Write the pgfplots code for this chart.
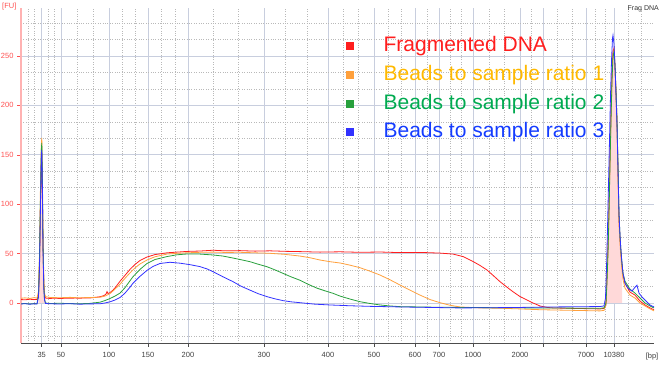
\documentclass[border=0pt]{standalone}
\usepackage{fontspec}
\setmainfont{Liberation Sans}
\usepackage{pgfplots}
\pgfplotsset{compat=1.18}
\definecolor{lred}{RGB}{255,30,30}
\definecolor{lora}{RGB}{255,160,60}
\definecolor{lgrn}{RGB}{40,160,60}
\definecolor{lblu}{RGB}{50,50,255}
\definecolor{tora}{RGB}{255,185,0}
\definecolor{tgrn}{RGB}{0,170,80}
\definecolor{tblu}{RGB}{20,60,255}
\definecolor{gmaj}{RGB}{200,206,222}
\definecolor{gmin}{RGB}{185,185,185}
\definecolor{ylab}{RGB}{255,80,80}
\begin{document}
\begin{tikzpicture}
\useasboundingbox (-21pt,-32pt) rectangle (641pt,343pt);
\begin{axis}[
  scale only axis, width=633pt, height=335pt,
  xmin=21, xmax=654, ymin=-40.5, ymax=298.6,
  axis x line=bottom, axis y line=left,
  axis line style={-},
  x axis line style={draw=black!70, line width=0.8pt},
  y axis line style={draw=red!30, line width=2pt},
  xtick={41.7,61,109,148,188,264,328,374,415,439,473,520,543,586,614},
  xticklabels={35,50,100,150,200,300,400,500,600,700,1000,2000,,7000,10380},
  ytick={0,50,100,150,200,250},
  minor xtick={28,34.5,48,54.5,77,93,122,135,161,175,213,238,285,307,343,358,388,401,427,450,461,489,504,531,557,572,595,605,628,641},
  minor ytick={-33.33,-16.67,16.67,33.33,66.67,83.33,116.67,133.33,166.67,183.33,216.67,233.33,266.67,283.33},
  grid=both,
  major grid style={draw=gmaj, line width=0.9pt},
  minor grid style={draw=gmin, dotted, line width=0.6pt},
  tick align=outside, major tick length=4pt, minor tick length=0pt,
  x tick style={draw=black!70, line width=0.8pt},
  y tick style={draw=ylab, line width=0.6pt},
  /pgf/number format/assume math mode=true,
  x tick label style={font=\fontsize{7.5}{9}\selectfont, text=black!75, yshift=-2pt},
  y tick label style={font=\fontsize{7.5}{9}\selectfont, text=ylab},
  legend style={at={(axis cs:343,274)}, anchor=north west, draw=none, fill=none,
    font=\fontsize{21}{25}\selectfont, row sep=5.8pt,
    nodes={inner sep=1pt, text height=16pt, text depth=5pt}},
  legend cell align=left,
  legend image code/.code={\path[draw=none,fill=none] (0pt,0pt) -- (36pt,0pt); \fill (0pt,-3.5pt) rectangle (7pt,3.5pt);},
]
\addplot[fill=red!15, draw=none, forget plot] coordinates {(38.5,3.6) (39.5,40) (40.5,100) (41.3,140) (41.8,145) (42.3,120) (43,60) (43.8,20) (44.5,8) (45.5,5)} \closedcycle;
\addplot[fill=red!15, draw=none, forget plot] coordinates {(606,-2) (607,30) (608,60) (609,100) (610,150) (611,195) (612,235) (613,255) (614,258) (615,240) (616,215) (617,185) (618,135) (619,84) (620,65) (621,50) (622,38)} \closedcycle;
% Fragmented DNA
\addplot[lred, line width=0.8pt] coordinates {
(21,3.5) (25,3.2) (30,3.8) (34,3.4) (37,3.6) (38.5,8) (39.5,40) (40.5,100) (41.3,140) (41.8,145) (42.3,120) (43,60) (43.8,20) (44.5,8) (45.5,5)
(50,4.6) (55,4.9) (60,4.5) (65,4.8) (70,4.7) (75,5.0) (80,4.8) (85,5.2) (90,5.1) (95,5.6) (100,6.3) (104,7.5) (106,9) (107,11.5) (108,9.5) (110,10.5)
(113,13) (116,16.5) (120,22) (125,28) (130,34) (135,39) (140,43) (147,46.5) (155,49) (167,50.8) (177,51.5) (187,52.2) (200,52.6) (213,53.4)
(225,52.8) (240,53.0) (255,52.5) (270,52.8) (285,52.3) (300,52.0) (320,51.5) (340,51.8) (360,51.3) (380,51.6) (400,51.0) (420,51.2) (440,50.5)
(453,49.5) (463,47) (473,42) (480,38) (487,33.4) (493,28) (500,21.6) (507,16) (513,11.4) (520,6.5) (527,3) (533,0) (540,-3) (547,-4.5) (553,-5)
(565,-5.3) (575,-5.5) (590,-5.8) (600,-6) (604,-5.5) (606,-2) (607,30) (608,60) (609,100) (610,150) (611,195) (612,235) (613,255) (614,258)
(615,240) (616,215) (617,185) (618,135) (619,84) (620,65) (621,50) (622,38) (623,28) (625,20) (630,11) (635,8) (640,2) (645,-2) (650,-5) (654,-7)};
\addlegendentry{\textcolor{lred}{Fragmented DNA}}
% ratio 1
\addplot[lora, line width=0.8pt] coordinates {
(21,4.8) (25,5.2) (30,4.6) (34,5.4) (37,5.0) (38.5,12) (39.5,50) (40.5,120) (41.3,160) (41.8,167) (42.3,140) (43,70) (43.8,25) (44.5,10) (45.5,6.5)
(50,5.6) (60,5.3) (70,5.7) (80,5.2) (90,5.6) (100,5.8) (105,7) (110,9.5) (115,14) (120,19) (125,25) (130,30.5) (135,35.5) (140,39.5) (147,43.5)
(155,46.8) (167,49.5) (177,50.3) (187,50.8) (200,51.3) (213,51.5) (225,51.2) (240,51.3) (255,50.8) (270,50.3) (285,49.2) (300,47.5) (310,45.8)
(320,43.5) (330,41.8) (340,40.5) (350,38.3) (360,35.7) (370,32.2) (380,28.3) (390,23.5) (400,18.2) (410,13) (420,8) (430,3.5) (440,0.3)
(450,-2.3) (460,-4) (480,-5) (500,-5.3) (520,-6) (540,-6.8) (560,-7.2) (580,-7.6) (600,-8) (604,-7.5) (606,0) (607,25) (608,55) (609,95)
(610,145) (611,190) (612,228) (613,250) (614,256) (615,240) (616,210) (617,180) (618,130) (619,80) (620,60) (621,45) (622,33) (623,24)
(625,15) (630,8) (635,5) (640,0) (645,-3) (650,-6) (654,-8)};
\addlegendentry{\textcolor{tora}{Beads to sample ratio 1}}
% ratio 2
\addplot[lgrn, line width=0.8pt] coordinates {
(21,-0.8) (25,-0.5) (30,-1.0) (34,-0.6) (37,-0.8) (38.5,8) (39.5,45) (40.5,110) (41.3,155) (41.8,162) (42.3,130) (43,60) (43.8,18) (44.5,4) (45.5,0)
(50,-0.5) (60,-0.3) (70,-0.6) (80,-0.8) (90,-0.4) (100,0.8) (105,2.5) (110,4.5) (115,7) (120,10) (125,15.5) (130,22.5) (133,26.6) (140,34) (147,40)
(155,44) (167,47) (177,48.8) (187,49.6) (200,49.5) (213,48.6) (223,47.5) (233,45.5) (241,43.8) (250,41.8) (258,39.3) (267,36.7) (275,33.5)
(283,30) (291,26.5) (300,23) (308,19) (317,15) (325,12.3) (333,9.8) (340,7) (350,4) (360,1.3) (370,-0.5) (380,-2) (390,-3) (400,-3.7)
(430,-4.2) (460,-4.5) (500,-4.8) (540,-5) (570,-5.2) (600,-5.4) (604,-5) (606,0) (607,22) (608,50) (609,90) (610,140) (611,185) (612,225)
(613,250) (614,254) (615,240) (616,215) (617,185) (618,140) (619,90) (620,68) (621,52) (622,40) (623,30) (625,22) (630,14) (635,10) (640,5)
(645,0) (650,-3) (654,-5)};
\addlegendentry{\textcolor{tgrn}{Beads to sample ratio 2}}
% ratio 3
\addplot[lblu, line width=0.8pt] coordinates {
(21,-1) (25,-0.7) (30,-1.2) (34,-0.8) (37,-1) (38.5,6) (39.5,35) (40.5,100) (41.3,148) (41.8,155) (42.3,125) (43,55) (43.8,15) (44.5,3) (45.5,-0.5)
(50,-0.8) (60,-1) (70,-0.7) (80,-1.2) (90,-0.9) (100,-0.8) (105,0) (110,1.2) (115,3) (120,5.5) (125,10) (130,16) (133,20) (140,27) (147,33)
(153,37) (160,40) (170,41.2) (180,40.3) (190,38.8) (200,36.8) (207,34.5) (213,31.7) (223,26.5) (233,21.6) (241,17) (250,13) (258,9.5)
(267,6.4) (275,4.2) (283,2.4) (291,1.2) (300,0.3) (315,-1.2) (330,-2) (350,-2.8) (370,-3.4) (400,-4) (430,-4.5) (460,-5) (490,-4.8)
(520,-4.5) (553,-4) (580,-3.8) (600,-3.6) (604,-3) (605.5,5) (606.5,35) (607.5,75) (608.5,120) (609.5,165) (610.5,210) (611.5,245)
(612.5,268) (613,271) (614,262) (615,240) (616,210) (617,180) (618,135) (619,90) (620,68) (621,52) (622,40) (623,30) (625,20) (628,15)
(632,12) (635,16) (637,18) (639,10) (642,6) (646,2) (650,-2) (654,-4)};
\addlegendentry{\textcolor{tblu}{Beads to sample ratio 3}}
\end{axis}
\node[anchor=west, text=ylab, font=\fontsize{7.5}{9}\selectfont, inner sep=0pt] at (-19pt,336pt) {[FU]};
\node[anchor=east, text=black!80, font=\fontsize{7}{8}\selectfont, inner sep=0pt] at (638pt,334pt) {Frag DNA};
\node[text=black!75, font=\fontsize{7.5}{9}\selectfont, inner sep=0pt] at (631pt,-14pt) {[bp]};
\end{tikzpicture}
\end{document}
